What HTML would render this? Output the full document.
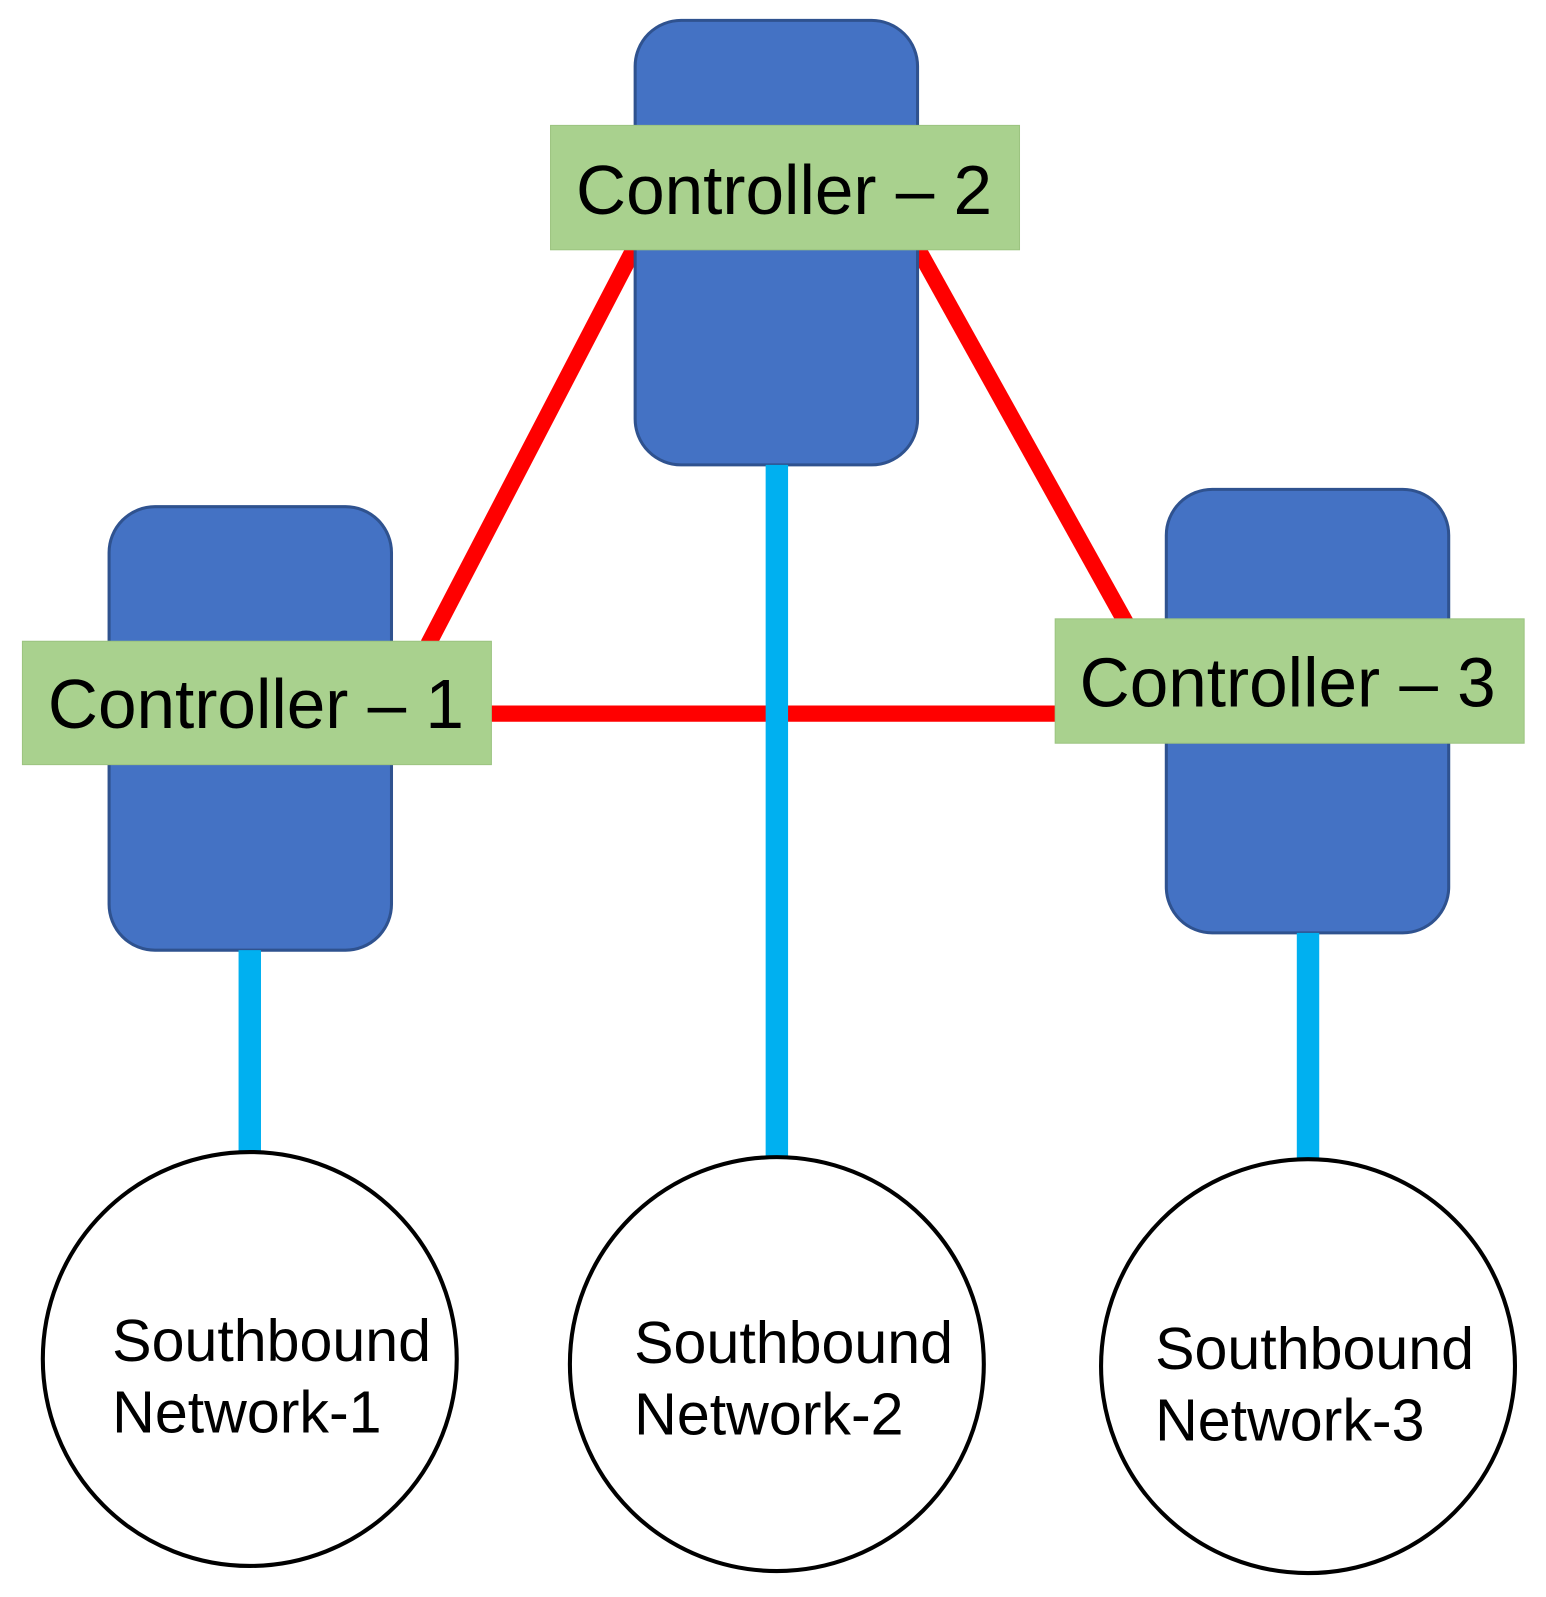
<!DOCTYPE html>
<html><head><meta charset="utf-8"><style>html,body{margin:0;padding:0;background:#fff}svg{display:block}</style></head>
<body>
<svg width="1546" height="1597" viewBox="0 0 1546 1597" xmlns="http://www.w3.org/2000/svg" font-family="Liberation Sans, Arial, sans-serif">
<rect width="1546" height="1597" fill="#fff"/>
<g transform="scale(1.0195)">
<g stroke="#ff0000" stroke-width="16" fill="none">
<line x1="624" y1="240" x2="420" y2="632"/>
<line x1="898" y1="240" x2="1105" y2="612"/>
<line x1="480" y1="700" x2="1037" y2="700"/>
</g>
<g fill="#4472c4" stroke="#2f528f" stroke-width="3">
<rect x="623" y="20" width="277" height="436" rx="45"/>
<rect x="107" y="497" width="277" height="435" rx="45"/>
<rect x="1144" y="480" width="277" height="435" rx="45"/>
</g>
<g stroke="#00b0f0" stroke-width="22">
<line x1="245" y1="932" x2="245" y2="1133"/>
<line x1="762" y1="456" x2="762" y2="1139"/>
<line x1="1283" y1="915" x2="1283" y2="1141"/>
</g>
<g fill="#a9d18e" stroke="#9cc480" stroke-width="1">
<rect x="540" y="123" width="460" height="122"/>
<rect x="22" y="629" width="460" height="121"/>
<rect x="1035" y="607" width="460" height="122"/>
</g>
<g font-size="68" fill="#000">
<text x="565" y="210">Controller – 2</text>
<text x="47" y="714">Controller – 1</text>
<text x="1059" y="693">Controller – 3</text>
</g>
<g fill="#fff" stroke="#000" stroke-width="4">
<circle cx="245" cy="1333" r="203"/>
<circle cx="762" cy="1338" r="203"/>
<circle cx="1283" cy="1340" r="203"/>
</g>
<g font-size="58" fill="#000">
<text x="110" y="1335">Southbound</text>
<text x="110" y="1405">Network-1</text>
<text x="622" y="1337">Southbound</text>
<text x="622" y="1407">Network-2</text>
<text x="1133" y="1343">Southbound</text>
<text x="1133" y="1413">Network-3</text>
</g>
</g>
</svg>
</body></html>
